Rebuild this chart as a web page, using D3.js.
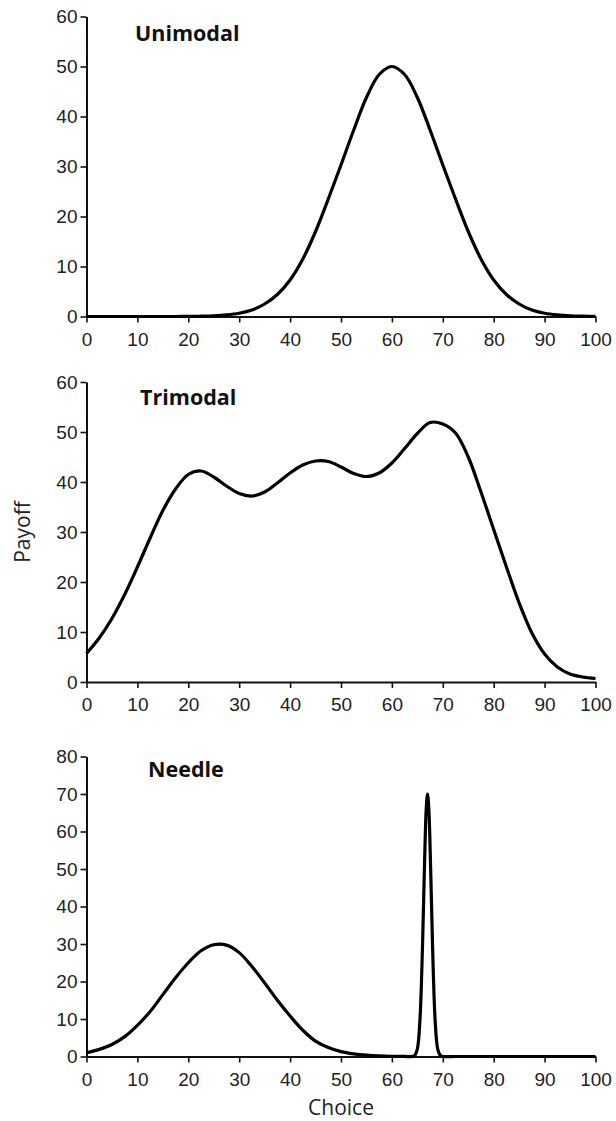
<!DOCTYPE html>
<html>
<head>
<meta charset="utf-8">
<script src="https://cdn.jsdelivr.net/npm/d3@7.9.0/dist/d3.min.js"></script>
<style>
  html, body { margin: 0; padding: 0; background: #fff; }
  svg { display: block; font-family: "Open Sans", "Noto Sans", sans-serif; }
  .axis path, .axis line { stroke: #111; }
  .axis text { fill: #222; font-size: 19px; }
</style>
</head>
<body>
<svg id="chart" width="616" height="1121"></svg>
<script>
/* ------------------------------- data ------------------------------- */
const choiceTicks = [0, 10, 20, 30, 40, 50, 60, 70, 80, 90, 100];

// shared choice grid for the two smooth landscapes
const gridChoice = [
  0, 2.5, 5, 7.5, 10, 12.5, 15, 17.5, 20, 22.5, 25, 27.5, 30, 32.5, 35, 37.5, 40,
  42.5, 45, 47.5, 50, 52.5, 55, 57.5, 60, 62.5, 65, 67.5, 70, 72.5, 75, 77.5, 80,
  82.5, 85, 87.5, 90, 92.5, 95, 97.5, 100
];

const unimodalPayoff = [
  0, 0, 0, 0, 0, 0, 0, 0, 0.02, 0.06, 0.14, 0.32, 0.66, 1.3, 2.5, 4.4, 7.3,
  11.5, 17.0, 23.5, 30.3, 37.3, 43.8, 48.4, 50, 48.4, 43.8, 37.3, 30.3, 23.5, 17.0, 11.5, 7.3,
  4.4, 2.5, 1.3, 0.66, 0.32, 0.14, 0.06, 0.02
];

const trimodalPayoff = [
  5.7, 8.8, 12.7, 17.5, 23.0, 28.8, 34.3, 38.6, 41.5, 42.2, 41.0, 39.2, 37.7, 37.2, 38.0, 39.8, 41.8,
  43.4, 44.2, 44.1, 43.0, 41.7, 41.1, 41.8, 43.8, 46.7, 49.7, 51.9, 51.6, 49.8, 45.0, 38.0, 30.5,
  23.0, 15.8, 9.8, 5.6, 3.0, 1.6, 1.0, 0.7
];

const needleChoice = [
  0, 2.5, 5, 7.5, 10, 12.5, 15, 17.5, 20, 22.5, 25, 27.5, 30, 32.5, 35, 37.5, 40,
  42.5, 45, 47.5, 50, 52.5, 55, 57.5, 60, 62.5, 64, 64.5, 65, 65.5, 66, 66.25, 66.5,
  66.75, 67, 67.25, 67.5, 67.75, 68, 68.5, 69, 69.5, 70, 72.5, 75, 77.5, 80, 82.5,
  85, 87.5, 90, 92.5, 95, 97.5, 100
];

const needlePayoff = [
  1.0, 1.9, 3.2, 5.3, 8.3, 12.0, 16.5, 21.0, 25.0, 28.2, 29.8, 29.7, 27.7, 24.0, 19.6, 15.0, 10.8,
  7.0, 4.1, 2.4, 1.3, 0.7, 0.35, 0.15, 0.06, 0.02, 0, 0.3, 2.0, 9.5, 28.8, 42.5, 56,
  66.2, 70, 66.2, 56, 42.5, 28.8, 9.5, 2.0, 0.3, 0, 0, 0, 0, 0, 0,
  0, 0, 0, 0, 0, 0, 0
];

const panels = [
  { title: "Unimodal", choice: gridChoice, payoff: unimodalPayoff, yMax: 60, yTicks: [0, 10, 20, 30, 40, 50, 60] },
  { title: "Trimodal", choice: gridChoice, payoff: trimodalPayoff, yMax: 60, yTicks: [0, 10, 20, 30, 40, 50, 60] },
  { title: "Needle",   choice: needleChoice, payoff: needlePayoff, yMax: 80, yTicks: [0, 10, 20, 30, 40, 50, 60, 70, 80] }
];

/* ------------------------------ layout ------------------------------ */
// vertical pixel extents of each panel [bottom, top] and title placement
const frames = [
  { bottom: 316.5, top: 16.5, titleX: 135, titleY: 41 },
  { bottom: 682, top: 382, titleX: 140, titleY: 405 },
  { bottom: 1056.5, top: 756.5, titleX: 148, titleY: 777 }
];

const svg = d3.select("#chart");
const x = d3.scaleLinear().domain([0, 100]).range([86.5, 595.5]);

panels.forEach((p, i) => {
  const f = frames[i];
  const y = d3.scaleLinear().domain([0, p.yMax]).range([f.bottom, f.top]);
  const g = svg.append("g");

  g.append("g")
    .attr("class", "axis")
    .attr("transform", `translate(0,${f.bottom})`)
    .call(d3.axisBottom(x).tickValues(choiceTicks).tickSize(6).tickSizeOuter(0).tickPadding(10))
    .call(a => a.select(".domain").attr("stroke-width", 2))
    .call(a => a.selectAll(".tick line").attr("stroke-width", 1.6));

  g.append("g")
    .attr("class", "axis")
    .attr("transform", `translate(${x(0)},0)`)
    .call(d3.axisLeft(y).tickValues(p.yTicks).tickSize(6).tickSizeOuter(0).tickPadding(3))
    .call(a => a.select(".domain").attr("stroke-width", 2))
    .call(a => a.selectAll(".tick line").attr("stroke-width", 1.6));

  const line = d3.line()
    .x((d, k) => x(p.choice[k]))
    .y(d => y(Math.max(0, d)))
    .curve(d3.curveCatmullRom.alpha(0.5));

  g.append("path")
    .datum(p.payoff)
    .attr("d", line)
    .attr("fill", "none")
    .attr("stroke", "#000")
    .attr("stroke-width", 3.2)
    .attr("stroke-linejoin", "round");

  g.append("text")
    .attr("x", f.titleX)
    .attr("y", f.titleY)
    .attr("font-size", 21.5)
    .attr("font-weight", "bold")
    .attr("fill", "#111")
    .text(p.title);
});

// axis titles
svg.append("text")
  .attr("transform", `translate(30,532) rotate(-90)`)
  .attr("text-anchor", "middle")
  .attr("font-size", 21)
  .attr("fill", "#222")
  .text("Payoff");

svg.append("text")
  .attr("x", x(50))
  .attr("y", 1115)
  .attr("text-anchor", "middle")
  .attr("font-size", 21)
  .attr("fill", "#222")
  .text("Choice");
</script>
</body>
</html>
